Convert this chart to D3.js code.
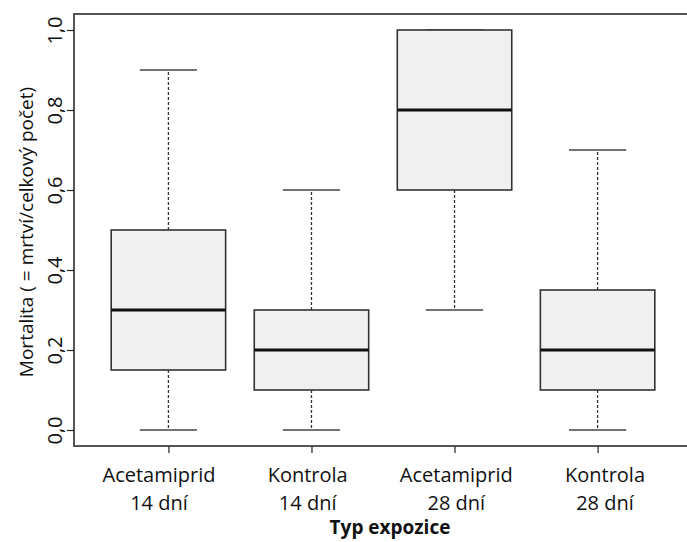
<!DOCTYPE html>
<html>
<head>
<meta charset="utf-8">
<script src="https://cdn.jsdelivr.net/npm/d3@7"></script>
<style>
  body { margin: 0; background: #fff; }
  svg { display: block; font-family: "Open Sans", sans-serif; }
</style>
</head>
<body>
<svg id="chart" width="687" height="542"></svg>
<script>
// box plot stats
const groups = ["Acetamiprid|14 dní", "Kontrola|14 dní", "Acetamiprid|28 dní", "Kontrola|28 dní"];
const mins = [0.0, 0.0, 0.3, 0.0];
const q1s = [0.15, 0.1, 0.6, 0.1];
const medians = [0.3, 0.2, 0.8, 0.2];
const q3s = [0.5, 0.3, 1.0, 0.35];
const maxs = [0.9, 0.6, 1.0, 0.7];
const yTicks = [0, 0.2, 0.4, 0.6, 0.8, 1.0];

const svg = d3.select("#chart");

// R-style scales: 4% padding around the data range
const x = d3.scaleLinear().domain([0.34, 4.66]).range([74, 692]);
const y = d3.scaleLinear().domain([-0.04, 1.04]).range([446, 14]);
// the category labels sit slightly off their ticks in the original
const xLabel = d3.scaleLinear().domain([1, 4]).range([159, 605]);

const step = x(2) - x(1);
const boxW = step * 0.8;
const capW = boxW * 0.5;

const fmt = d => d3.format(".1f")(d).replace(".", ",");

// frame
svg.append("rect")
  .attr("x", x(0.34)).attr("y", y(1.04))
  .attr("width", x(4.66) - x(0.34)).attr("height", y(-0.04) - y(1.04))
  .attr("fill", "none").attr("stroke", "#555").attr("stroke-width", 2);

// y axis
const yAxis = svg.append("g")
  .attr("transform", "translate(" + x(0.34) + ",0)")
  .call(d3.axisLeft(y).tickValues(yTicks).tickFormat(fmt).tickSize(7).tickSizeOuter(0));
yAxis.attr("font-size", null).attr("font-family", null);
yAxis.select(".domain").remove();
yAxis.selectAll("line").attr("stroke", "#333").attr("stroke-width", 1.3);
yAxis.selectAll(".tick text")
  .attr("transform", "rotate(-90)")
  .attr("x", 0).attr("dx", 0).attr("y", -12).attr("dy", 0)
  .style("text-anchor", "middle")
  .style("font-size", "20px").attr("fill", "#111");

// x axis
const xAxis = svg.append("g")
  .attr("transform", "translate(0," + y(-0.04) + ")")
  .call(d3.axisBottom(x).tickValues([1, 2, 3, 4]).tickFormat("").tickSize(7).tickSizeOuter(0));
xAxis.select(".domain").remove();
xAxis.selectAll("line").attr("stroke", "#333").attr("stroke-width", 1.3);

groups.forEach((g, i) => {
  const lines = g.split("|");
  const lx = xLabel(i + 1);
  const t = svg.append("text")
    .attr("x", lx).attr("y", 482)
    .attr("text-anchor", "middle")
    .style("font-size", "20px").attr("fill", "#111");
  t.append("tspan").attr("x", lx).text(lines[0]);
  t.append("tspan").attr("x", lx).attr("dy", 28).text(lines[1]);
});

// boxes
const boxes = svg.append("g");
groups.forEach((g, i) => {
  const cx = x(i + 1);
  // whiskers
  boxes.append("line")
    .attr("x1", cx).attr("x2", cx).attr("y1", y(q3s[i])).attr("y2", y(maxs[i]))
    .attr("stroke", "#333").attr("stroke-width", 1.3).attr("stroke-dasharray", "3,2");
  boxes.append("line")
    .attr("x1", cx).attr("x2", cx).attr("y1", y(q1s[i])).attr("y2", y(mins[i]))
    .attr("stroke", "#333").attr("stroke-width", 1.3).attr("stroke-dasharray", "3,2");
  // caps
  [mins[i], maxs[i]].forEach(v => {
    boxes.append("line")
      .attr("x1", cx - capW / 2).attr("x2", cx + capW / 2)
      .attr("y1", y(v)).attr("y2", y(v))
      .attr("stroke", "#444").attr("stroke-width", 1.6);
  });
  // box
  boxes.append("rect")
    .attr("x", cx - boxW / 2).attr("y", y(q3s[i]))
    .attr("width", boxW).attr("height", y(q1s[i]) - y(q3s[i]))
    .attr("fill", "#f0f0f0").attr("stroke", "#333").attr("stroke-width", 1.6);
  // median
  boxes.append("line")
    .attr("x1", cx - boxW / 2).attr("x2", cx + boxW / 2)
    .attr("y1", y(medians[i])).attr("y2", y(medians[i]))
    .attr("stroke", "#111").attr("stroke-width", 3);
});

// axis titles
svg.append("text")
  .attr("x", 390).attr("y", 534)
  .attr("text-anchor", "middle")
  .style("font-size", "19px").attr("font-weight", "bold").attr("fill", "#111")
  .text("Typ expozice");

svg.append("text")
  .attr("transform", "translate(33,232) rotate(-90)")
  .attr("text-anchor", "middle")
  .style("font-size", "19px").attr("fill", "#111")
  .text("Mortalita ( = mrtví/celkový počet)");
</script>
</body>
</html>
